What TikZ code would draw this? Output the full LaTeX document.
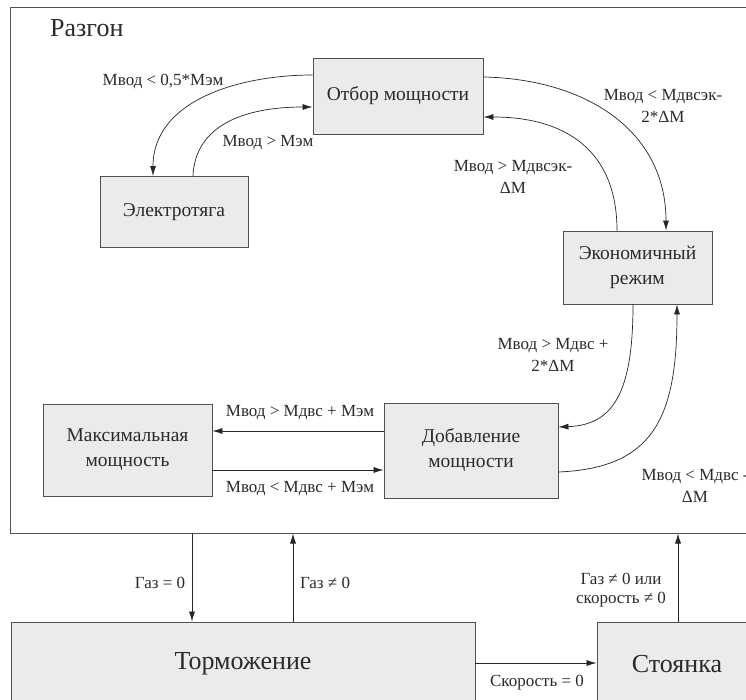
\documentclass[tikz,border=0pt]{standalone}
\usepackage{fontspec}
\setmainfont{Liberation Serif}
\usetikzlibrary{arrows.meta,calc}
\definecolor{boxfill}{HTML}{EBEBEB}
\definecolor{boxline}{HTML}{505050}
\definecolor{txt}{HTML}{2A2A2A}
\begin{document}
\begin{tikzpicture}[x=1pt,y=-1pt,
  statebox/.style={draw=boxline,fill=boxfill,line width=0.9pt,rectangle,inner sep=0pt,align=center,text=txt,font=\fontsize{19.5}{25}\selectfont},
  bigbox/.style={statebox,font=\fontsize{26}{30}\selectfont},
  conn/.style={draw=black!85,line width=0.7pt,-{Latex[length=10pt,width=6pt]}},
  lbl/.style={text=txt,align=center,inner sep=0pt,font=\fontsize{17}{22}\selectfont},
  slbl/.style={text=txt,align=center,inner sep=0pt,font=\fontsize{17}{19}\selectfont}]
\useasboundingbox (0,0) rectangle (746,699);
\fill[white] (0,0) rectangle (746,699);
\clip (0,0) rectangle (746,699);
% frame
\node[draw=boxline,line width=1pt,minimum width=750pt,minimum height=526pt,inner sep=0pt] (razgon) at (385,270) {};
\node[text=txt,anchor=west,inner sep=0pt,font=\fontsize{26}{30}\selectfont] (title) at (50,28) {Разгон};
% boxes
\node[statebox,minimum width=170pt,minimum height=76pt] (otbor) at (398,96) {Отбор мощности};
\node[statebox,minimum width=148pt,minimum height=71pt] (elek) at (174,212) {Электротяга};
\node[statebox,minimum width=149pt,minimum height=73pt] (econ) at (637.5,267.5) {Экономичный\\режим};
\node[statebox,minimum width=169pt,minimum height=92pt] (maxp) at (127.5,450) {Максимальная\\мощность};
\node[statebox,minimum width=174pt,minimum height=95pt] (dob) at (471,450.5) {Добавление\\мощности};
\node[bigbox,minimum width=464pt,minimum height=90pt] (torm) at (243,667) {};
\node[text=txt,inner sep=0pt,font=\fontsize{26}{30}\selectfont] (tormt) at (243,664) {Торможение};
\node[bigbox,minimum width=160pt,minimum height=90pt] (stoy) at (677,667) {};
\node[text=txt,inner sep=0pt,font=\fontsize{26}{30}\selectfont] (stoyt) at (677,664) {Стоянка};
% curved connectors
\draw[conn] ([yshift=21pt]otbor.west) .. controls (240,75) and (153,100) .. ([xshift=-21pt]elek.north);
\draw[conn] ([xshift=19pt]elek.north) .. controls (195,125) and (245,107) .. ([yshift=-11pt]otbor.west);
\draw[conn] ([yshift=19pt]otbor.east) .. controls (585,79) and (666,130) .. ([xshift=28.5pt]econ.north);
\draw[conn] ([xshift=-20.5pt]econ.north) .. controls (617,150) and (565,117) .. ([yshift=-21pt]otbor.east);
\draw[conn] ([xshift=-4.5pt]econ.south) .. controls (633,395) and (612,425) .. ([yshift=23.5pt]dob.east);
\draw[conn] ([yshift=-21.5pt]dob.east) .. controls (652,468) and (677,420) .. ([xshift=39.5pt]econ.south);
% straight connectors
\draw[conn] ([yshift=19.5pt]dob.west) -- ([yshift=19pt]maxp.east);
\draw[conn] ([yshift=-20pt]maxp.east) -- ([yshift=-19.5pt]dob.west);
\coordinate (g0) at (192,0);
\coordinate (g1) at (293,0);
\coordinate (g2) at (678,0);
\draw[conn] (razgon.south -| g0) -- (torm.north -| g0);
\draw[conn] (torm.north -| g1) -- (razgon.south -| g1);
\draw[conn] ([yshift=4pt]torm.east) -- ([yshift=4pt]stoy.west);
\draw[conn] (stoy.north -| g2) -- (razgon.south -| g2);
% labels
\node[lbl] (l1) at (163,81) {Мвод < 0,5*Мэм};
\node[lbl] (l2) at (268,143) {Мвод > Мэм};
\node[lbl] (l3) at (663,106) {Мвод < Мдвсэк-\\2*ΔM};
\node[lbl] (l4) at (513,177) {Мвод > Мдвсэк-\\ΔM};
\node[lbl] (l5) at (553,355) {Мвод > Мдвс +\\2*ΔM};
\node[lbl] (l6) at (695,486) {Мвод < Мдвс -\\ΔM};
\node[lbl] (l7) at (300,413) {Мвод > Мдвс + Мэм};
\node[lbl] (l8) at (300,489) {Мвод < Мдвс + Мэм};
\node[slbl] (l9) at (160,583) {Газ = 0};
\node[slbl] (l10) at (325,583) {Газ ≠ 0};
\node[slbl] (l11) at (621,590) {Газ ≠ 0 или\\скорость ≠ 0};
\node[slbl] (l12) at (537,683) {Скорость = 0};
\end{tikzpicture}
\end{document}
